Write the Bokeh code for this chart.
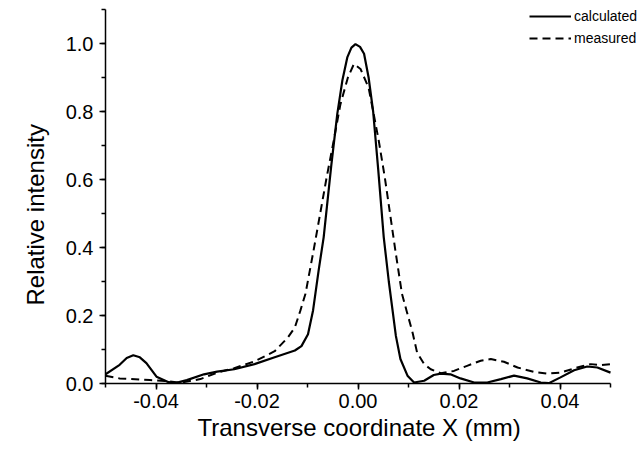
from bokeh.plotting import figure
from bokeh.models import (Range1d, SingleIntervalTicker, PrintfTickFormatter,
                          Legend, LegendItem, LinearAxis, Title)
from bokeh.embed import file_html
from bokeh.resources import INLINE

calc_x = [-0.0500, -0.0472, -0.0458, -0.0445, -0.0432, -0.0419, -0.0399, -0.0375,
          -0.0360, -0.0339, -0.0305, -0.0279, -0.0245, -0.0205, -0.0165, -0.0125,
          -0.0112, -0.0099, -0.0089, -0.0078, -0.0068, -0.0053, -0.0041, -0.0031,
          -0.0021, -0.0013, -0.0005, 0.0004, 0.0012, 0.0021, 0.0030, 0.0040,
          0.0051, 0.0061, 0.0068, 0.0075, 0.0084, 0.0098, 0.0111, 0.0131, 0.0150,
          0.0164, 0.0183, 0.0203, 0.0230, 0.0256, 0.0283, 0.0309, 0.0335, 0.0362,
          0.0378, 0.0401, 0.0428, 0.0454, 0.0474, 0.0500]
calc_y = [0.027, 0.055, 0.075, 0.083, 0.077, 0.060, 0.020, 0.004,
          0.002, 0.010, 0.027, 0.035, 0.042, 0.057, 0.077, 0.097,
          0.110, 0.145, 0.215, 0.332, 0.430, 0.640, 0.793, 0.891,
          0.960, 0.988, 0.998, 0.990, 0.970, 0.900, 0.800, 0.630,
          0.430, 0.300, 0.220, 0.140, 0.072, 0.023, 0.003, 0.008, 0.025,
          0.029, 0.027, 0.015, 0.003, 0.003, 0.013, 0.023, 0.015, 0.003,
          0.001, 0.018, 0.039, 0.050, 0.047, 0.032]

meas_x = [-0.0500, -0.0472, -0.0412, -0.0379, -0.0352, -0.0312, -0.0279, -0.0245,
          -0.0205, -0.0165, -0.0139, -0.0125, -0.0114, -0.0104, -0.0088, -0.0062,
          -0.0048, -0.0035, -0.0020, -0.0008, 0.0005, 0.0021, 0.0031, 0.0041,
          0.0053, 0.0074, 0.0087, 0.0096, 0.0108, 0.0117, 0.0131, 0.0144,
          0.0164, 0.0190, 0.0216, 0.0243, 0.0263, 0.0289, 0.0316, 0.0349,
          0.0375, 0.0401, 0.0434, 0.0461, 0.0481, 0.0500]
meas_y = [0.023, 0.015, 0.010, 0.007, 0.002, 0.013, 0.032, 0.045,
          0.065, 0.095, 0.135, 0.165, 0.215, 0.264, 0.391, 0.607,
          0.715, 0.820, 0.900, 0.940, 0.925, 0.870, 0.793, 0.715,
          0.607, 0.391, 0.264, 0.215, 0.150, 0.091, 0.057, 0.042,
          0.030, 0.037, 0.052, 0.067, 0.072, 0.064, 0.047, 0.034,
          0.029, 0.032, 0.047, 0.057, 0.054, 0.057]

x_label = "Transverse coordinate X (mm)"
y_label = "Relative intensity"
series_names = ["calculated", "measured"]

FONT = "Liberation Sans"

X0, X1 = -0.05, 0.05
Y0, Y1 = 0.0, 1.1
x_end = X0 + (X1 - X0) * (640 - 105) / (610 - 105)
y_end = Y0 + (Y1 - Y0) * (383 - 0) / (383 - 9)

p = figure(width=640, height=449, output_backend="svg", toolbar_location=None,
           x_range=Range1d(X0, x_end), y_range=Range1d(Y0, y_end),
           min_border_left=105, min_border_right=0, min_border_top=0,
           min_border_bottom=66, x_axis_type=None, y_axis_type=None)
p.outline_line_color = None
p.background_fill_color = "white"
p.border_fill_color = "white"

xax = LinearAxis(ticker=SingleIntervalTicker(interval=0.02, num_minor_ticks=2),
                 formatter=PrintfTickFormatter(format="%.2f"), bounds=(X0, X1))
yax = LinearAxis(ticker=SingleIntervalTicker(interval=0.2, num_minor_ticks=2),
                 formatter=PrintfTickFormatter(format="%.1f"), bounds=(Y0, Y1))
for ax in (xax, yax):
    ax.axis_line_width = 1.5
    ax.axis_line_color = "black"
    ax.major_tick_line_width = 1.5
    ax.minor_tick_line_width = 1.5
    ax.major_tick_in = 0
    ax.major_tick_out = 6
    ax.minor_tick_in = 0
    ax.minor_tick_out = 4
    ax.major_label_text_font = FONT
    ax.major_label_text_font_size = "20px"
    ax.major_label_text_color = "black"
xax.major_label_standoff = 4
yax.major_label_standoff = 6
p.add_layout(xax, "below")
p.add_layout(yax, "left")

xt = Title(text=x_label, align="left", offset=92, standoff=3,
           text_font=FONT, text_font_size="24px", text_font_style="normal",
           text_color="black")
yt = Title(text=y_label, align="left", offset=78, standoff=27,
           text_font=FONT, text_font_size="24px", text_font_style="normal",
           text_color="black")
p.add_layout(xt, "below")
p.add_layout(yt, "left")

r1 = p.line(calc_x, calc_y, line_color="black", line_width=2.2)
r2 = p.line(meas_x, meas_y, line_color="black", line_width=2, line_dash="8 5")

legend = Legend(items=[LegendItem(label=series_names[0], renderers=[r1]),
                       LegendItem(label=series_names[1], renderers=[r2])],
                location=(424, 334))
legend.background_fill_alpha = 0
legend.border_line_alpha = 0
legend.padding = 0
legend.margin = 0
legend.spacing = 0
legend.label_height = 22
legend.glyph_height = 22
legend.glyph_width = 42
legend.label_standoff = 3
legend.label_text_font = FONT
legend.label_text_font_size = "14px"
legend.label_text_color = "black"
p.add_layout(legend, "center")

open("out.html", "w").write(file_html(p, INLINE))
